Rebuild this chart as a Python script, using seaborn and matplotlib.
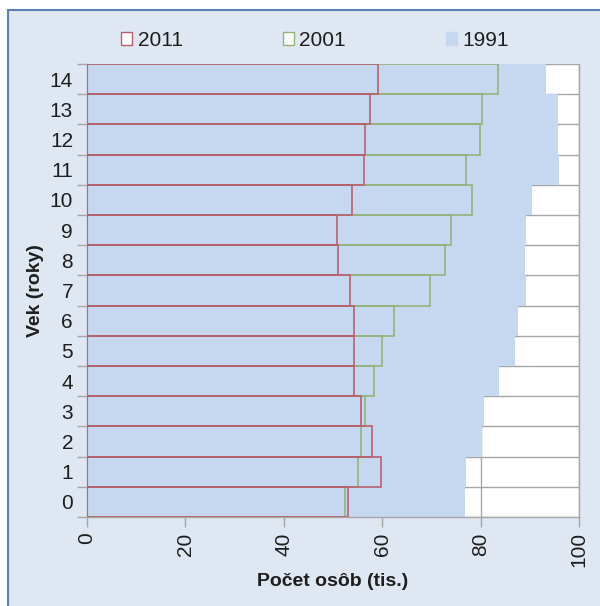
import pandas as pd
import numpy as np
import seaborn as sns
import matplotlib
matplotlib.use('Agg')
from matplotlib import pyplot as plt
from matplotlib.patches import Patch, Rectangle

sns.set_style('white')
plt.rcParams['font.family'] = ['Liberation Sans', 'DejaVu Sans']

# ages 0..14, values in thousands of persons
ages = [str(a) for a in range(15)]
y1991 = [76.8, 77.1, 80.2, 80.6, 83.7, 86.9, 87.5, 89.3, 89.0, 89.3, 90.5, 96.0, 95.7, 95.7, 93.2]
y2001 = [52.5, 55.1, 55.6, 56.6, 58.3, 60.0, 62.4, 69.8, 72.7, 73.9, 78.2, 77.1, 79.8, 80.3, 83.6]
y2011 = [53.0, 59.7, 58.0, 55.6, 54.3, 54.3, 54.3, 53.5, 51.1, 50.9, 53.9, 56.3, 56.5, 57.5, 59.2]

df = pd.DataFrame({'vek': ages, '1991': y1991, '2001': y2001, '2011': y2011})
order = ages[::-1]

bg = '#dfe7f2'
blue = '#c6d8ef'
green = '#94b27a'
red = '#b8606e'
grid = '#a6a6a6'
txt = '#1e1e1e'

fig = plt.figure(figsize=(6, 6.06), dpi=100, facecolor='white')
# outer panel with blue edge (extends past right/bottom)
fig.patches.append(Rectangle((8 / 600, -0.05), 1.1, 1 - 10 / 606 + 0.05, transform=fig.transFigure,
                             facecolor=bg, edgecolor='#5b7fb5', linewidth=1.5, zorder=-10))

ax = fig.add_axes([87 / 600, 1 - 517 / 606, (579 - 87) / 600, (517 - 64) / 606])
ax.set_facecolor('white')

sns.barplot(data=df, x='1991', y='vek', order=order, color=blue, width=1.0,
            saturation=1, linewidth=0, ax=ax, zorder=2)
sns.barplot(data=df, x='2001', y='vek', order=order, color=green, width=1.0,
            fill=False, linewidth=1.2, ax=ax, zorder=3)
sns.barplot(data=df, x='2011', y='vek', order=order, color=red, width=1.0,
            fill=False, linewidth=1.2, ax=ax, zorder=4)

ax.set_xlim(0, 100)
ax.set_ylim(14.5, -0.5)
ax.set_xticks(range(0, 101, 20))
ax.set_xticklabels([str(v) for v in range(0, 101, 20)], rotation=90, fontsize=15, color=txt)
ax.set_yticks(range(15))
ax.set_yticklabels(order, fontsize=15, color=txt)
ax.set_yticks(np.arange(-0.5, 15, 1), minor=True)
ax.tick_params(axis='y', which='major', length=0, pad=10)
ax.tick_params(axis='y', which='minor', length=7, color=grid, width=1)
ax.tick_params(axis='x', which='major', length=7, color=grid, width=1, pad=4, direction='out')
ax.tick_params(left=True, bottom=True, which='both')

ax.set_axisbelow(True)
ax.yaxis.grid(True, which='minor', color=grid, linewidth=1)
ax.xaxis.grid(True, which='major', color=grid, linewidth=1)
ax.spines['top'].set_visible(False)
for s in ['left', 'bottom', 'right']:
    ax.spines[s].set_color(grid)
    ax.spines[s].set_linewidth(1)

ax.set_xlabel('Počet osôb (tis.)', fontsize=14, fontweight='bold', labelpad=4, color=txt)
ax.set_ylabel('Vek (roky)', fontsize=14, fontweight='bold', labelpad=4, color=txt)

handles = [Patch(facecolor='white', edgecolor=red, linewidth=1, label='2011'),
           Patch(facecolor='white', edgecolor=green, linewidth=1, label='2001'),
           Patch(facecolor=blue, edgecolor=blue, linewidth=1, label='1991')]
leg = fig.legend(handles=handles, loc='center', bbox_to_anchor=(0.525, 0.933), ncol=3, frameon=False,
                 fontsize=15, handlelength=0.55, handleheight=0.55, handletextpad=0.25, columnspacing=4.8)
for t in leg.get_texts():
    t.set_color(txt)

fig.savefig('out.png', dpi=100, facecolor='white')
